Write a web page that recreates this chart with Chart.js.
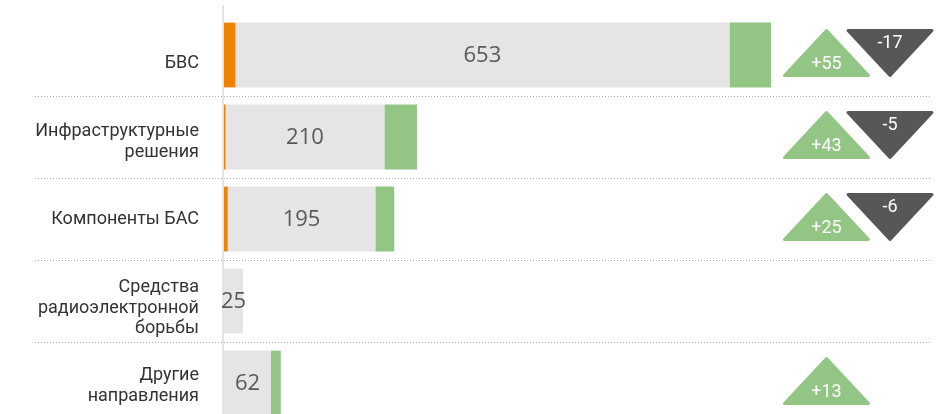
<!DOCTYPE html>
<html>
<head>
<meta charset="utf-8">
<script src="https://cdn.jsdelivr.net/npm/chart.js@4/dist/chart.umd.min.js"></script>
<style>
  html, body { margin: 0; padding: 0; background: #ffffff; overflow: hidden; }
  #wrap { position: relative; width: 938px; height: 424px; }
</style>
</head>
<body>
<div id="wrap"><canvas id="c"></canvas></div>
<script>
// ---- data ----
const categories = [
  "БВС",
  ["Инфраструктурные", "решения"],
  "Компоненты БАС",
  ["Средства", "радиоэлектронной", "борьбы"],
  ["Другие", "направления"]
];
const orangeValues = [15, 2, 5, 0, 0];
const currentValues = [653, 210, 195, 25, 62];
const addedValues = [55, 43, 25, 0, 13];
const increaseLabels = [55, 43, 25, null, 13];
const decreaseLabels = [-17, -5, -6, null, null];

// ---- styles ----
const ORANGE = '#F08200';
const GRAY = '#E5E5E5';
const GREEN = '#93C585';
const DARK = '#575757';
const labelShift = [8, 5, 0, 7, 3];   // vertical nudge of category labels (px)
const LABEL_LINE = 20.5;

const axisLabelPlugin = {
  id: 'axisLabels',
  beforeDatasetsDraw(chart) {
    const { ctx, chartArea } = chart;
    const y = chart.scales.y;
    ctx.save();
    // axis line
    ctx.fillStyle = '#e3e3e3';
    ctx.fillRect(chartArea.left - 2, 5, 2, chartArea.bottom - 5);
    // separators
    const step = y.getPixelForValue(1) - y.getPixelForValue(0);
    ctx.strokeStyle = '#ababab';
    ctx.lineWidth = 1;
    ctx.setLineDash([1, 2]);
    categories.forEach((c, i) => {
      const yy = Math.round(y.getPixelForValue(i) + step / 2) + 0.5;
      ctx.beginPath();
      ctx.moveTo(35, yy);
      ctx.lineTo(931, yy);
      ctx.stroke();
    });
    ctx.setLineDash([]);
    // category labels
    ctx.font = "18px Roboto";
    ctx.fillStyle = '#333333';
    ctx.textAlign = 'right';
    ctx.textBaseline = 'middle';
    categories.forEach((c, i) => {
      const lines = Array.isArray(c) ? c : [c];
      const cy = y.getPixelForValue(i) + labelShift[i];
      lines.forEach((t, j) => {
        ctx.fillText(t, chartArea.left - 25, cy + (j - (lines.length - 1) / 2) * LABEL_LINE);
      });
    });
    ctx.restore();
  }
};

const valueLabelPlugin = {
  id: 'valueLabels',
  afterDatasetsDraw(chart) {
    const { ctx } = chart;
    const meta = chart.getDatasetMeta(1);
    ctx.save();
    ctx.font = "22px 'Open Sans'";
    ctx.fillStyle = '#595959';
    ctx.textAlign = 'center';
    ctx.textBaseline = 'middle';
    meta.data.forEach((el, i) => {
      const cx = (el.x + el.base) / 2;
      ctx.fillText(String(currentValues[i]), cx, el.y + 1);
    });
    ctx.restore();
  }
};

function roundedTri(ctx, pts, color) {
  ctx.beginPath();
  ctx.moveTo(pts[0][0], pts[0][1]);
  ctx.lineTo(pts[1][0], pts[1][1]);
  ctx.lineTo(pts[2][0], pts[2][1]);
  ctx.closePath();
  ctx.fillStyle = color;
  ctx.strokeStyle = color;
  ctx.lineJoin = 'round';
  ctx.lineWidth = 3;
  ctx.fill();
  ctx.stroke();
}

const trianglePlugin = {
  id: 'triangles',
  afterDatasetsDraw(chart) {
    const { ctx, chartArea } = chart;
    const y = chart.scales.y;
    const hw = 42, hh = 22.5;
    ctx.save();
    ctx.font = "18px Roboto";
    ctx.textAlign = 'center';
    ctx.textBaseline = 'middle';
    categories.forEach((c, i) => {
      const cy = y.getPixelForValue(i) - 2;
      const inc = increaseLabels[i];
      if (inc !== null && inc !== undefined) {
        const cx = chartArea.right - 106.5;
        roundedTri(ctx, [[cx, cy - hh], [cx + hw, cy + hh], [cx - hw, cy + hh]], GREEN);
        ctx.fillStyle = '#ffffff';
        ctx.fillText('+' + inc, cx, cy + 11);
      }
      const dec = decreaseLabels[i];
      if (dec !== null && dec !== undefined) {
        const cx = chartArea.right - 43;
        roundedTri(ctx, [[cx - hw, cy - hh], [cx + hw, cy - hh], [cx, cy + hh]], DARK);
        ctx.fillStyle = '#ffffff';
        ctx.fillText(String(dec), cx, cy - 10);
      }
    });
    ctx.restore();
  }
};

new Chart(document.getElementById('c'), {
  type: 'bar',
  data: {
    labels: categories,
    datasets: [
      { data: orangeValues, backgroundColor: ORANGE },
      { data: currentValues, backgroundColor: GRAY },
      { data: addedValues, backgroundColor: GREEN }
    ]
  },
  options: {
    indexAxis: 'y',
    responsive: true,
    maintainAspectRatio: false,
    devicePixelRatio: 1,
    animation: false,
    events: [],
    layout: { padding: { top: 14, right: 5, bottom: 0, left: 0 } },
    datasets: { bar: { categoryPercentage: 1, barPercentage: 0.79, borderWidth: 0 } },
    plugins: { legend: { display: false }, tooltip: { enabled: false } },
    scales: {
      x: { stacked: true, min: 0, max: 937, display: false },
      y: {
        stacked: true,
        grid: { display: false, drawTicks: false },
        border: { display: false },
        ticks: { display: false },
        afterFit(scale) {
          scale.width = 224;
          scale.paddingTop = 0;
          scale.paddingBottom = 0;
        }
      }
    }
  },
  plugins: [axisLabelPlugin, valueLabelPlugin, trianglePlugin]
});
</script>
</body>
</html>
